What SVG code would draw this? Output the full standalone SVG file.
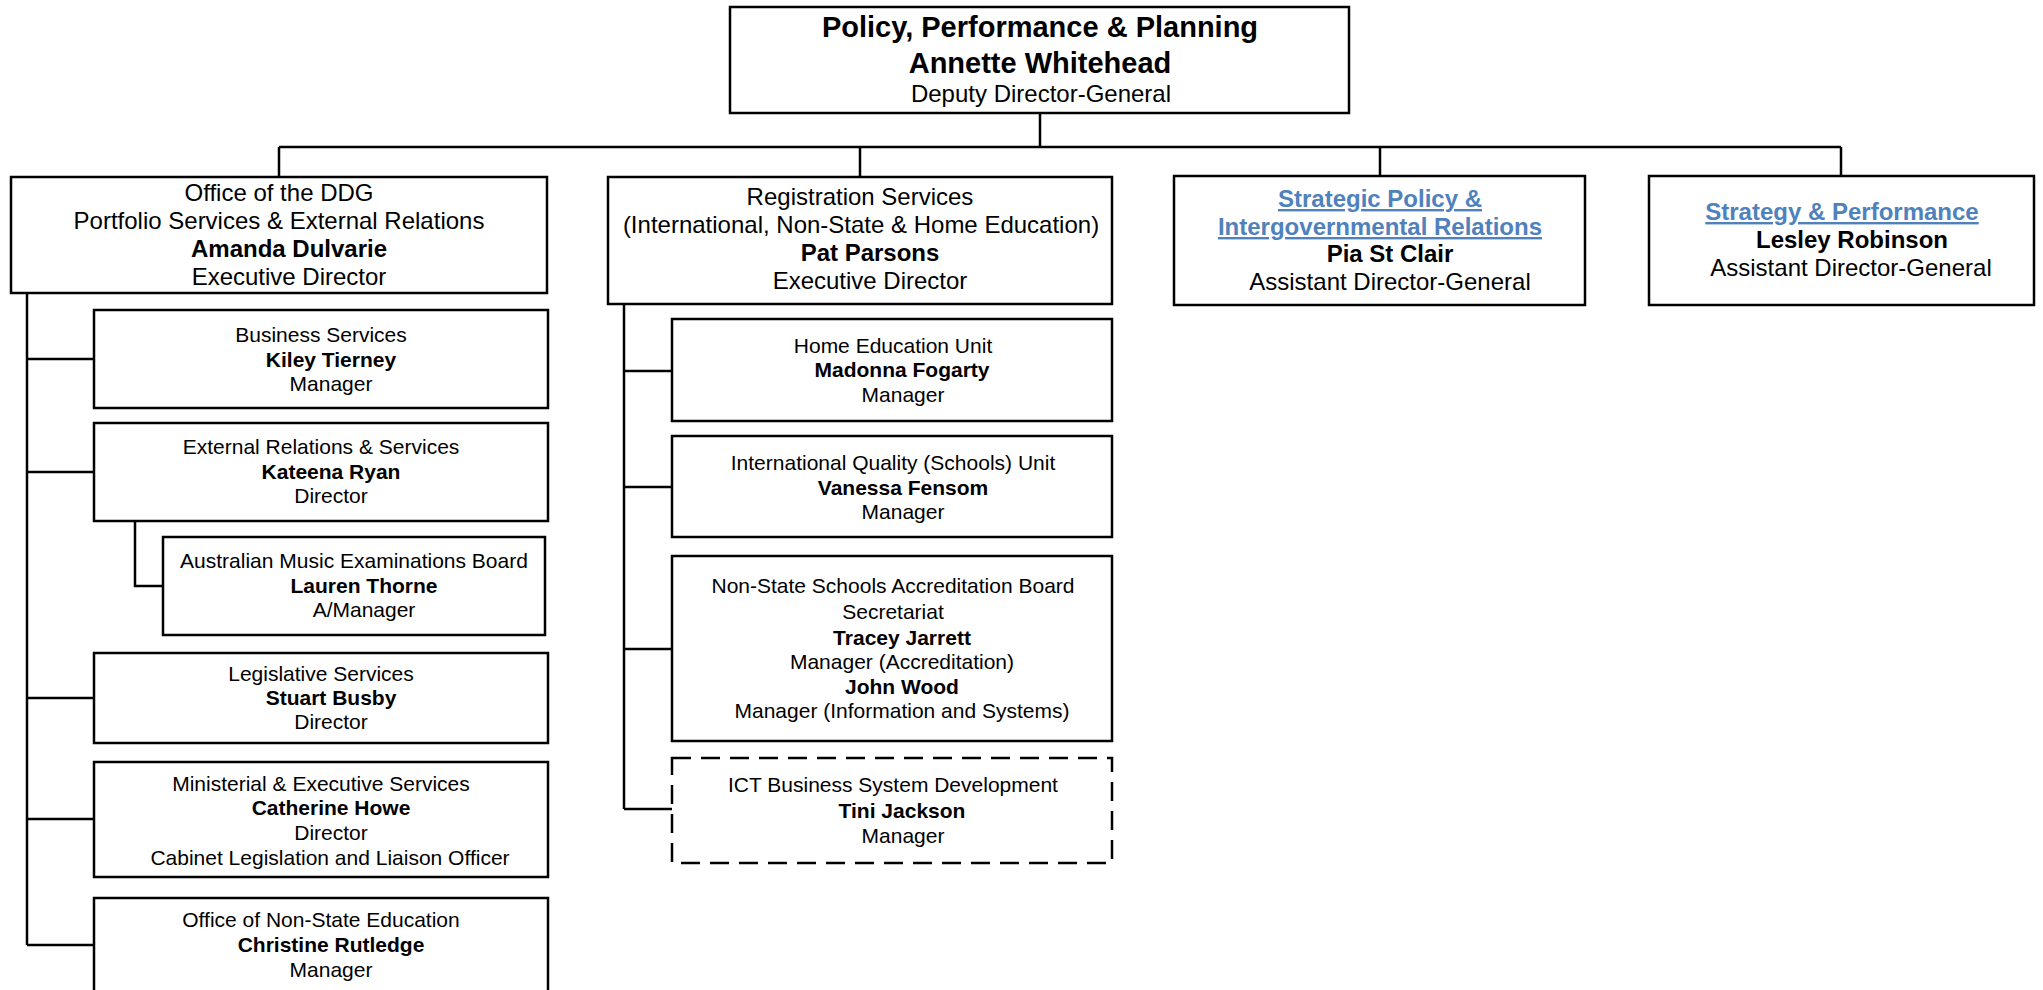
<svg xmlns="http://www.w3.org/2000/svg" width="2043" height="990" viewBox="0 0 2043 990">
<style>
.box{fill:#fff;stroke:#000;stroke-width:2.5}
.dash{stroke-dasharray:19 10}
.ln{fill:none;stroke:#000;stroke-width:2.5}
text{font-family:"Liberation Sans",Arial,sans-serif;fill:#000;text-anchor:middle}
.t{font-size:29px;font-weight:bold}
.m{font-size:24px}
.c{font-size:21px}
.b{font-weight:bold}
.lk{fill:#4F81BD;font-weight:bold;text-decoration:underline}
</style>
<rect width="2043" height="990" fill="#fff"/>
<g id="connectors">
<path class="ln" d="M1040 113V147M279 147H1841M279 147V177M860 147V177M1380 147V176M1841 147V176"/>
<path class="ln" d="M27 293V945M27 359H94M27 472H94M27 698H94M27 819H94M27 945H94M135 521V586H163"/>
<path class="ln" d="M624 304V809M624 371H672M624 487H672M624 649H672M624 809H672"/>
</g>
<g id="n-ddg">
<rect class="box" x="730" y="7" width="619" height="106"/>
<text class="t" x="1040" y="37">Policy, Performance &amp; Planning</text>
<text class="t" x="1040" y="73">Annette Whitehead</text>
<text class="m" x="1041" y="102">Deputy Director-General</text>
</g>
<g id="n-office">
<rect class="box" x="11" y="177" width="536" height="116"/>
<text class="m" x="279" y="201">Office of the DDG</text>
<text class="m" x="279" y="229">Portfolio Services &amp; External Relations</text>
<text class="m b" x="289" y="257">Amanda Dulvarie</text>
<text class="m" x="289" y="285">Executive Director</text>
</g>
<g id="n-reg">
<rect class="box" x="608" y="177" width="504" height="127"/>
<text class="m" x="860" y="205">Registration Services</text>
<text class="m" x="861" y="233">(International, Non-State &amp; Home Education)</text>
<text class="m b" x="870" y="261">Pat Parsons</text>
<text class="m" x="870" y="289">Executive Director</text>
</g>
<g id="n-sp">
<rect class="box" x="1174" y="176" width="411" height="129"/>
<text class="m lk" x="1380" y="207">Strategic Policy &amp;</text>
<text class="m lk" x="1380" y="235">Intergovernmental Relations</text>
<text class="m b" x="1390" y="262">Pia St Clair</text>
<text class="m" x="1390" y="290">Assistant Director-General</text>
</g>
<g id="n-sap">
<rect class="box" x="1649" y="176" width="385" height="129"/>
<text class="m lk" x="1842" y="220">Strategy &amp; Performance</text>
<text class="m b" x="1852" y="248">Lesley Robinson</text>
<text class="m" x="1851" y="276">Assistant Director-General</text>
</g>
<g id="n-bs">
<rect class="box" x="94" y="310" width="454" height="98"/>
<text class="c" x="321" y="342">Business Services</text>
<text class="c b" x="331" y="367">Kiley Tierney</text>
<text class="c" x="331" y="391">Manager</text>
</g>
<g id="n-ers">
<rect class="box" x="94" y="423" width="454" height="98"/>
<text class="c" x="321" y="454">External Relations &amp; Services</text>
<text class="c b" x="331" y="479">Kateena Ryan</text>
<text class="c" x="331" y="503">Director</text>
</g>
<g id="n-ameb">
<rect class="box" x="163" y="537" width="382" height="98"/>
<text class="c" x="354" y="568">Australian Music Examinations Board</text>
<text class="c b" x="364" y="593">Lauren Thorne</text>
<text class="c" x="364" y="617">A/Manager</text>
</g>
<g id="n-ls">
<rect class="box" x="94" y="653" width="454" height="90"/>
<text class="c" x="321" y="681">Legislative Services</text>
<text class="c b" x="331" y="705">Stuart Busby</text>
<text class="c" x="331" y="729">Director</text>
</g>
<g id="n-mes">
<rect class="box" x="94" y="762" width="454" height="115"/>
<text class="c" x="321" y="791">Ministerial &amp; Executive Services</text>
<text class="c b" x="331" y="815">Catherine Howe</text>
<text class="c" x="331" y="840">Director</text>
<text class="c" x="330" y="865">Cabinet Legislation and Liaison Officer</text>
</g>
<g id="n-onse">
<rect class="box" x="94" y="898" width="454" height="110"/>
<text class="c" x="321" y="927">Office of Non-State Education</text>
<text class="c b" x="331" y="952">Christine Rutledge</text>
<text class="c" x="331" y="977">Manager</text>
</g>
<g id="n-heu">
<rect class="box" x="672" y="319" width="440" height="102"/>
<text class="c" x="893" y="353">Home Education Unit</text>
<text class="c b" x="902" y="377">Madonna Fogarty</text>
<text class="c" x="903" y="402">Manager</text>
</g>
<g id="n-iq">
<rect class="box" x="672" y="436" width="440" height="101"/>
<text class="c" x="893" y="470">International Quality (Schools) Unit</text>
<text class="c b" x="903" y="495">Vanessa Fensom</text>
<text class="c" x="903" y="519">Manager</text>
</g>
<g id="n-nssab">
<rect class="box" x="672" y="556" width="440" height="185"/>
<text class="c" x="893" y="593">Non-State Schools Accreditation Board</text>
<text class="c" x="893" y="619">Secretariat</text>
<text class="c b" x="902" y="645">Tracey Jarrett</text>
<text class="c" x="902" y="669">Manager (Accreditation)</text>
<text class="c b" x="902" y="694">John Wood</text>
<text class="c" x="902" y="718">Manager (Information and Systems)</text>
</g>
<g id="n-ict">
<rect class="box dash" x="672" y="758" width="440" height="105"/>
<text class="c" x="893" y="792">ICT Business System Development</text>
<text class="c b" x="902" y="818">Tini Jackson</text>
<text class="c" x="903" y="843">Manager</text>
</g>
</svg>
